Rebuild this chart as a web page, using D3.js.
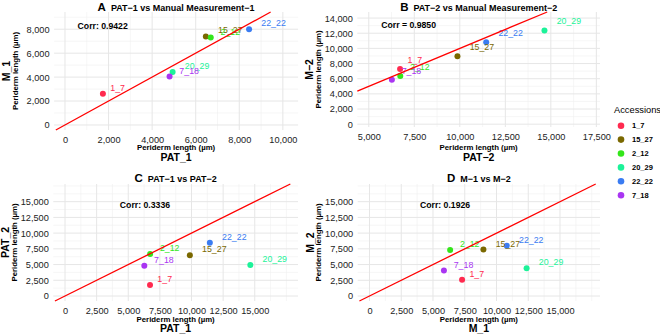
<!DOCTYPE html>
<html><head><meta charset="utf-8">
<script src="https://cdn.jsdelivr.net/npm/d3@7"></script>
<style>
body{margin:0;background:#fff;}
svg{display:block;font-family:"Liberation Sans",Arial,Helvetica,sans-serif;}
</style>
</head><body><svg id="chart" width="660" height="335"></svg>
<script>
// ---- data ----
const accessions = ["1_7","15_27","2_12","20_29","22_22","7_18"];
const accessionColors = ["#FF2A4F","#7A6800","#33E61A","#1CF299","#3A7CF2","#A935F2"];
const PAT_1 = [1740, 6465, 6690, 4940, 8450, 4800];
const M_1   = [2600, 7400, 7300, 4420, 8000, 4050];
const PAT_2 = [6720, 9870, 6730, 14650, 11450, 6270];
const M_2   = [7290, 8970, 6350, 12370, 10810, 5860];
const ticksA_x = [0,2000,4000,6000,8000,10000];
const ticksA_y = [0,2000,4000,6000,8000];
const ticksB_x = [5000,7500,10000,12500,15000,17500];
const ticksB_y = [0,2000,4000,6000,8000,10000,12000,14000];
const ticksCD  = [0,2500,5000,7500,10000,12500,15000];
const corrLabels  = ["Corr: 0.9422","Corr = 0.9850","Corr: 0.3336","Corr: 0.1926"];
const panelTags   = ["A","B","C","D"];
const panelTitles = ["PAT\u22121 vs Manual Measurement\u22121","PAT\u22122 vs Manual Measurement\u22122","PAT\u22121 vs PAT\u22122","M\u22121 vs M\u22122"];
const xTitles = ["PAT_1","PAT\u22122","PAT_1","M_1"];
const yTitles = ["M_1","M\u22122","PAT_2","M_2"];
const axisSubtitle = "Periderm length (\u00b5m)";
const legendTitle = "Accessions";

// ---- layout (scales / positions) ----
const panels = [
  {xv:PAT_1, yv:M_1, xt:ticksA_x, yt:ticksA_y, xd:[-500,10700], yd:[-420,9440], box:[54.1,298.1,12,130], corrAt:[1730,8270], lift:6, row:0},
  {xv:PAT_2, yv:M_2, xt:ticksB_x, yt:ticksB_y, xd:[4370,17700], yd:[-370,14800], box:[357.3,600,12,127], corrAt:[7190,13090], lift:9.3, row:0},
  {xv:PAT_2, yv:PAT_1, xt:ticksCD, yt:ticksCD, xd:[-925,18419], yd:[-795,17812], box:[53.3,298,184,301], corrAt:[6320,14470], lift:6, row:1},
  {xv:M_2, yv:M_1, xt:ticksCD, yt:ticksCD, xd:[-929,18150], yd:[-795,17812], box:[357.7,600,184,301], corrAt:[5950,14470], lift:6, row:1}
];
const rows = [
  {titleBase:10.6, subY:147, mainY:157.5},
  {titleBase:182.3, subY:319.3, mainY:328.5}
];

const svg = d3.select("#chart");
svg.append("rect").attr("width",660).attr("height",335).attr("fill","#fff");
const fmt = d3.format(",");

function minors(ticks, dom){
  const step = ticks[1]-ticks[0], out=[];
  for(let v=ticks[0]-step; v<=ticks[ticks.length-1]+step+1e-6; v+=step/2){
    if(v>=dom[0] && v<=dom[1] && !ticks.includes(v)) out.push(v);
  }
  return out;
}

panels.forEach((p,i)=>{
  const [L,R,T,B] = p.box;
  const x = d3.scaleLinear().domain(p.xd).range([L,R]);
  const y = d3.scaleLinear().domain(p.yd).range([B,T]);
  const g = svg.append("g");
  const row = rows[p.row];

  // grid
  const grid = g.append("g");
  grid.selectAll(".mx").data(minors(p.xt,p.xd)).join("line")
    .attr("x1",d=>x(d)).attr("x2",d=>x(d)).attr("y1",T).attr("y2",B)
    .attr("stroke","#F0F0F0").attr("stroke-width",0.6);
  grid.selectAll(".my").data(minors(p.yt,p.yd)).join("line")
    .attr("y1",d=>y(d)).attr("y2",d=>y(d)).attr("x1",L).attr("x2",R)
    .attr("stroke","#F0F0F0").attr("stroke-width",0.6);
  grid.selectAll(".Mx").data(p.xt).join("line")
    .attr("x1",d=>x(d)).attr("x2",d=>x(d)).attr("y1",T).attr("y2",B)
    .attr("stroke","#E6E6E6").attr("stroke-width",1);
  grid.selectAll(".My").data(p.yt).join("line")
    .attr("y1",d=>y(d)).attr("y2",d=>y(d)).attr("x1",L).attr("x2",R)
    .attr("stroke","#E6E6E6").attr("stroke-width",1);

  // axes (text only, like theme_minimal)
  const xa = g.append("g").attr("transform",`translate(0,${B})`)
    .call(d3.axisBottom(x).tickValues(p.xt).tickFormat(fmt).tickSize(0).tickPadding(6.5));
  const ya = g.append("g").attr("transform",`translate(${L},0)`)
    .call(d3.axisLeft(y).tickValues(p.yt).tickFormat(fmt).tickSize(0).tickPadding(4.5));
  [xa,ya].forEach(a=>{
    a.select(".domain").remove();
    a.selectAll("text").attr("font-size","9.2px").attr("fill","#222").attr("font-family",null);
  });

  // points
  g.selectAll(".pt").data(accessions).join("circle")
    .attr("cx",(d,k)=>x(p.xv[k])).attr("cy",(d,k)=>y(p.yv[k])).attr("r",3)
    .attr("fill",(d,k)=>accessionColors[k]);

  // point labels (hjust = -0.5)
  const lbl = g.selectAll(".lb").data(accessions).join("text")
    .text(d=>d).attr("font-size","8.8px")
    .attr("fill",(d,k)=>accessionColors[k])
    .attr("y",(d,k)=>y(p.yv[k]) - p.lift).attr("dy","0.35em");
  lbl.attr("x",function(d,k){ return x(p.xv[k]) + 0.5*this.getComputedTextLength(); });

  // identity line
  const t0 = Math.max(p.xd[0],p.yd[0]), t1 = Math.min(p.xd[1],p.yd[1]);
  g.append("line").attr("x1",x(t0)).attr("y1",y(t0)).attr("x2",x(t1)).attr("y2",y(t1))
    .attr("stroke","#FF0000").attr("stroke-width",1.3);

  // correlation annotation
  g.append("text").text(corrLabels[i]).attr("x",x(p.corrAt[0])).attr("y",y(p.corrAt[1]))
    .attr("dy","0.35em").attr("text-anchor","middle").attr("font-size","8.7px")
    .attr("font-weight","bold").attr("fill","#000");

  // title (tag + text, centred on panel)
  const tg = g.append("g");
  const tag = tg.append("text").text(panelTags[i]).attr("font-size","11.5px").attr("font-weight","bold").attr("y",row.titleBase);
  const tt = tg.append("text").text(panelTitles[i]).attr("font-size","9px").attr("font-weight","bold").attr("y",row.titleBase);
  const w1 = tag.node().getComputedTextLength(), w2 = tt.node().getComputedTextLength(), gap = 5;
  const start = (L+R)/2 - (w1+gap+w2)/2;
  tag.attr("x",start); tt.attr("x",start+w1+gap);

  // axis titles
  g.append("text").text(axisSubtitle).attr("x",(L+R)/2).attr("y",row.subY).attr("dy","0.35em")
    .attr("text-anchor","middle").attr("font-size","7.8px").attr("font-weight","bold");
  g.append("text").text(xTitles[i]).attr("x",(L+R)/2).attr("y",row.mainY).attr("dy","0.35em")
    .attr("text-anchor","middle").attr("font-size","10.5px").attr("font-weight","bold");
  const cy = (T+B)/2;
  g.append("text").text(axisSubtitle).attr("transform",`translate(${L-39},${cy}) rotate(-90)`)
    .attr("dy","0.35em").attr("text-anchor","middle").attr("font-size","7.8px").attr("font-weight","bold");
  g.append("text").text(yTitles[i]).attr("transform",`translate(${L-47.5},${cy}) rotate(-90)`)
    .attr("dy","0.35em").attr("text-anchor","middle").attr("font-size","10.5px").attr("font-weight","bold");
});

// legend
const lg = svg.append("g");
lg.append("text").text(legendTitle).attr("x",614).attr("y",110).attr("dy","0.35em").attr("font-size","9.3px");
const items = lg.selectAll(".li").data(accessions).join("g")
  .attr("transform",(d,k)=>`translate(621,${125.7 + k*13.9})`);
items.append("circle").attr("r",3.3).attr("fill",(d,k)=>accessionColors[k]);
items.append("text").text(d=>d).attr("x",11).attr("dy","0.35em").attr("font-size","7.5px").attr("font-weight","bold");
</script>
</body></html>
